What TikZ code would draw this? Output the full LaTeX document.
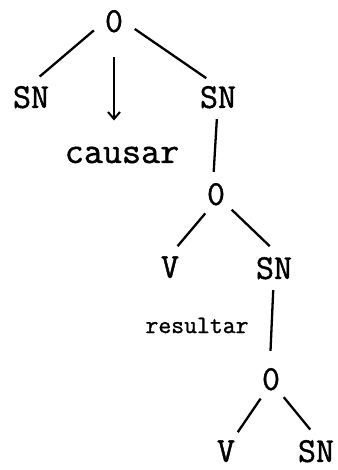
\documentclass[tikz,border=0pt]{standalone}
\usepackage{fontspec}
\newfontfamily\typewriter{Latin Modern Mono}[FakeBold=1.2]
\usetikzlibrary{arrows.meta}
\tikzset{
  cat/.style={circle, inner sep=0pt, minimum size=44pt, text depth=0pt,
              font=\fontsize{35}{35}\selectfont\typewriter},
  word/.style={inner sep=0pt, anchor=base, font=\fontsize{37}{37}\selectfont\typewriter},
  smallword/.style={inner sep=0pt, anchor=base, font=\fontsize{25}{25}\selectfont\typewriter},
  branch/.style={line width=2.3pt},
  lexarrow/.style={line width=2.3pt, -{Straight Barb[length=7pt, width=12pt, line width=2pt]}}
}
\begin{document}
\begin{tikzpicture}[x=1pt, y=-1pt]
  \useasboundingbox (0,0) rectangle (337,470);

  % top clause
  \node[cat] (r0)   at (114,21) {0};
  \node[cat] (snL)  at (31,97)  {SN};
  \node[cat] (snR)  at (218,97) {SN};
  \node[word] (causar) at (122,163) {causar};

  % embedded clause under the right SN
  \node[cat] (o2)   at (216,194) {0};
  \node[cat] (v2)   at (170,267) {V};
  \node[cat] (sn2)  at (274,268) {SN};
  \node[smallword] (resultar) at (197,333) {resultar};

  % innermost clause
  \node[cat] (o3)   at (271,379) {0};
  \node[cat] (v3)   at (226,451) {V};
  \node[cat] (sn3)  at (316,451) {SN};

  % branches
  \draw[branch] (r0.205) -- (snL.67);
  \draw[branch] (r0.-21) -- (snR.122);
  \draw[lexarrow, shorten <=14pt, shorten >=26pt] (r0.south) -- (r0.south |- causar.north);
  \draw[branch] (snR.-93) -- (o2.96);
  \draw[branch] (o2.241) -- (v2.70);
  \draw[branch] (o2.-45) -- (sn2.101);
  \draw[branch, shorten >=6pt] (sn2.-92) -- (o3.92);
  \draw[branch] (o3.242) -- (v3.58);
  \draw[branch] (o3.-55) -- (sn3.105);
\end{tikzpicture}
\end{document}
